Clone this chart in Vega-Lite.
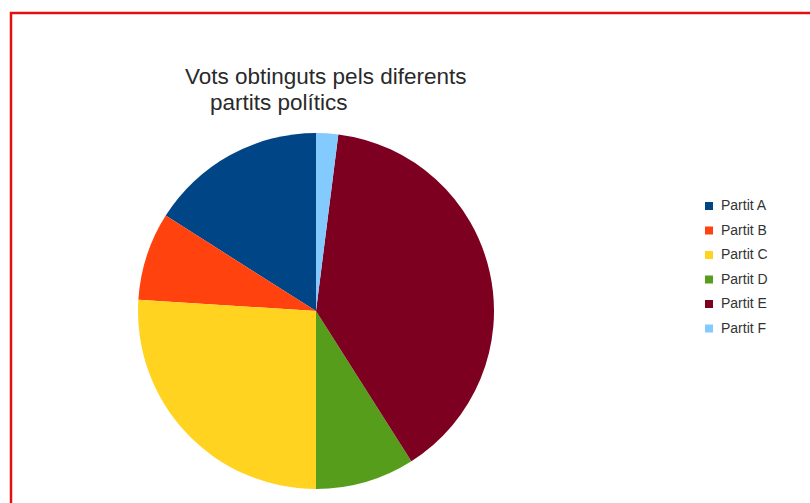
{
  "$schema": "https://vega.github.io/schema/vega-lite/v6.json",
  "autosize": {"type": "none"},
  "width": 801,
  "height": 492,
  "padding": {"left": 11, "top": 13, "right": -2, "bottom": -2},
  "background": "white",
  "view": {"stroke": "#e01010", "strokeWidth": 2.5, "fill": "white"},
  "title": {
    "text": ["Vots obtinguts pels diferents", "\u200b\u00a0\u00a0\u00a0\u00a0partits polítics"],
    "orient": "top",
    "anchor": "start",
    "frame": "group",
    "align": "left",
    "baseline": "alphabetic",
    "offset": 0,
    "dx": 174,
    "dy": 119,
    "font": "Liberation Sans",
    "fontSize": 22.5,
    "fontWeight": "normal",
    "color": "#2a2a2a",
    "lineHeight": 26
  },
  "data": {
    "values": [
      {"partit": "Partit A", "vots": 16},
      {"partit": "Partit B", "vots": 8},
      {"partit": "Partit C", "vots": 26},
      {"partit": "Partit D", "vots": 9},
      {"partit": "Partit E", "vots": 39},
      {"partit": "Partit F", "vots": 2}
    ]
  },
  "mark": {"type": "arc", "outerRadius": 178, "x": 305, "y": 298, "stroke": null},
  "encoding": {
    "theta": {"field": "vots", "type": "quantitative", "stack": true},
    "order": {"field": "partit", "sort": "descending"},
    "color": {
      "field": "partit",
      "type": "nominal",
      "scale": {
        "domain": ["Partit A", "Partit B", "Partit C", "Partit D", "Partit E", "Partit F"],
        "range": ["#004586", "#ff420e", "#ffd320", "#579d1c", "#7e0021", "#83caff"]
      },
      "legend": {
        "title": null,
        "orient": "none",
        "legendX": 691,
        "legendY": 186,
        "padding": 0,
        "symbolType": "square",
        "symbolSize": 64,
        "symbolStrokeWidth": 0,
        "labelFont": "Liberation Sans",
        "labelFontSize": 14,
        "labelColor": "#333333",
        "labelOffset": 5,
        "rowPadding": 10.5
      }
    }
  }
}
